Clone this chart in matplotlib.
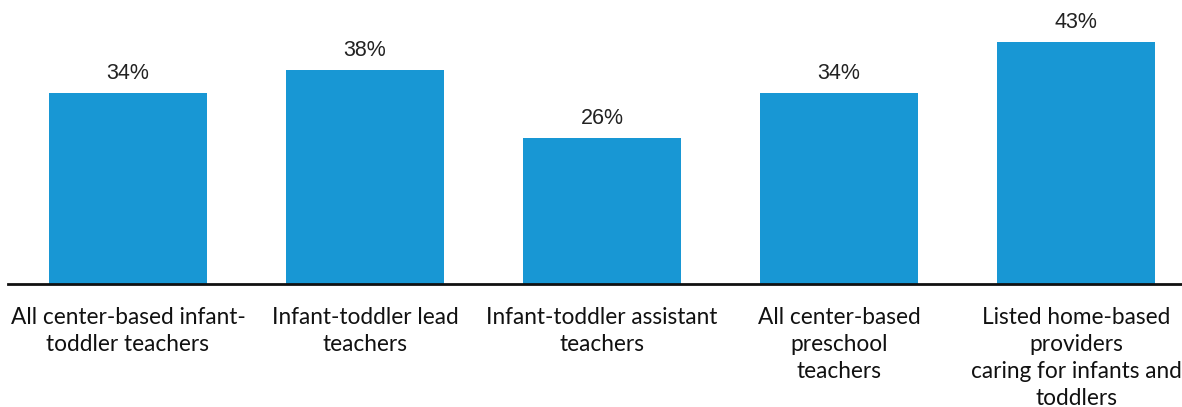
import matplotlib.pyplot as plt

categories = [
    "All center-based infant-\ntoddler teachers",
    "Infant-toddler lead\nteachers",
    "Infant-toddler assistant\nteachers",
    "All center-based\npreschool\nteachers",
    "Listed home-based\nproviders\ncaring for infants and\ntoddlers",
]
values = [34, 38, 26, 34, 43]

fig = plt.figure(figsize=(11.82, 4.07), dpi=100)
ax = fig.add_axes([8 / 1182, 123 / 407, 1174 / 1182, 282 / 407])

x = range(len(values))
bars = ax.bar(x, values, width=0.667, color="#1897D4", zorder=2)

for b, v in zip(bars, values):
    ax.annotate(f"{v}%", (b.get_x() + b.get_width() / 2, v),
                xytext=(0, 9.8), textcoords="offset points",
                ha="center", va="baseline", fontsize=15.5,
                family="Liberation Sans", color="#222222")

ax.set_xlim(-0.506, 4.447)
ax.set_ylim(0, 50.1)
ax.set_xticks(list(x))
ax.set_xticklabels(categories, fontsize=16.3, family="Lato", color="#111111",
                   linespacing=1.36)
ax.tick_params(axis="x", length=0, pad=16.5)
ax.set_yticks([])
for side in ["top", "right", "left"]:
    ax.spines[side].set_visible(False)
ax.spines["bottom"].set_linewidth(2)
ax.spines["bottom"].set_color("#111111")

fig.savefig("out.png", dpi=100)
